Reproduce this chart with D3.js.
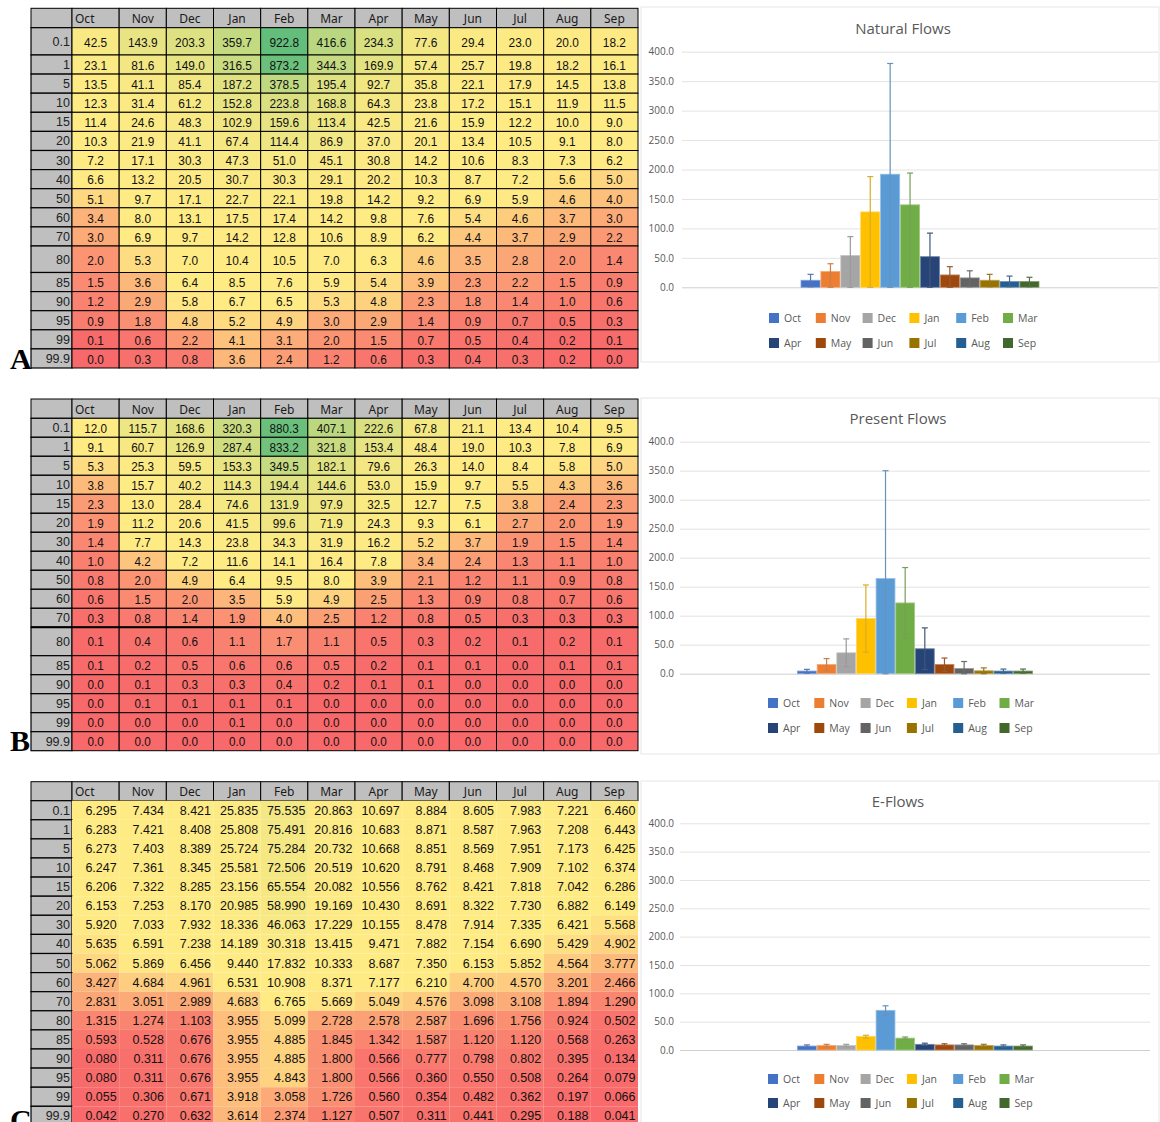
<!DOCTYPE html>
<html><head><meta charset="utf-8">
<script src="https://cdn.jsdelivr.net/npm/d3@7"></script>
<style>body{margin:0;background:#fff}svg{display:block}</style>
</head><body>
<svg id="c" width="1160" height="1122"></svg>
<script>
const months = ["Oct","Nov","Dec","Jan","Feb","Mar","Apr","May","Jun","Jul","Aug","Sep"];
const percentiles = ["0.1","1","5","10","15","20","30","40","50","60","70","80","85","90","95","99","99.9"];

const naturalTable = [
 [42.5,143.9,203.3,359.7,922.8,416.6,234.3,77.6,29.4,23.0,20.0,18.2],
 [23.1,81.6,149.0,316.5,873.2,344.3,169.9,57.4,25.7,19.8,18.2,16.1],
 [13.5,41.1,85.4,187.2,378.5,195.4,92.7,35.8,22.1,17.9,14.5,13.8],
 [12.3,31.4,61.2,152.8,223.8,168.8,64.3,23.8,17.2,15.1,11.9,11.5],
 [11.4,24.6,48.3,102.9,159.6,113.4,42.5,21.6,15.9,12.2,10.0,9.0],
 [10.3,21.9,41.1,67.4,114.4,86.9,37.0,20.1,13.4,10.5,9.1,8.0],
 [7.2,17.1,30.3,47.3,51.0,45.1,30.8,14.2,10.6,8.3,7.3,6.2],
 [6.6,13.2,20.5,30.7,30.3,29.1,20.2,10.3,8.7,7.2,5.6,5.0],
 [5.1,9.7,17.1,22.7,22.1,19.8,14.2,9.2,6.9,5.9,4.6,4.0],
 [3.4,8.0,13.1,17.5,17.4,14.2,9.8,7.6,5.4,4.6,3.7,3.0],
 [3.0,6.9,9.7,14.2,12.8,10.6,8.9,6.2,4.4,3.7,2.9,2.2],
 [2.0,5.3,7.0,10.4,10.5,7.0,6.3,4.6,3.5,2.8,2.0,1.4],
 [1.5,3.6,6.4,8.5,7.6,5.9,5.4,3.9,2.3,2.2,1.5,0.9],
 [1.2,2.9,5.8,6.7,6.5,5.3,4.8,2.3,1.8,1.4,1.0,0.6],
 [0.9,1.8,4.8,5.2,4.9,3.0,2.9,1.4,0.9,0.7,0.5,0.3],
 [0.1,0.6,2.2,4.1,3.1,2.0,1.5,0.7,0.5,0.4,0.2,0.1],
 [0.0,0.3,0.8,3.6,2.4,1.2,0.6,0.3,0.4,0.3,0.2,0.0]
];
const presentTable = [
 [12.0,115.7,168.6,320.3,880.3,407.1,222.6,67.8,21.1,13.4,10.4,9.5],
 [9.1,60.7,126.9,287.4,833.2,321.8,153.4,48.4,19.0,10.3,7.8,6.9],
 [5.3,25.3,59.5,153.3,349.5,182.1,79.6,26.3,14.0,8.4,5.8,5.0],
 [3.8,15.7,40.2,114.3,194.4,144.6,53.0,15.9,9.7,5.5,4.3,3.6],
 [2.3,13.0,28.4,74.6,131.9,97.9,32.5,12.7,7.5,3.8,2.4,2.3],
 [1.9,11.2,20.6,41.5,99.6,71.9,24.3,9.3,6.1,2.7,2.0,1.9],
 [1.4,7.7,14.3,23.8,34.3,31.9,16.2,5.2,3.7,1.9,1.5,1.4],
 [1.0,4.2,7.2,11.6,14.1,16.4,7.8,3.4,2.4,1.3,1.1,1.0],
 [0.8,2.0,4.9,6.4,9.5,8.0,3.9,2.1,1.2,1.1,0.9,0.8],
 [0.6,1.5,2.0,3.5,5.9,4.9,2.5,1.3,0.9,0.8,0.7,0.6],
 [0.3,0.8,1.4,1.9,4.0,2.5,1.2,0.8,0.5,0.3,0.3,0.3],
 [0.1,0.4,0.6,1.1,1.7,1.1,0.5,0.3,0.2,0.1,0.2,0.1],
 [0.1,0.2,0.5,0.6,0.6,0.5,0.2,0.1,0.1,0.0,0.1,0.1],
 [0.0,0.1,0.3,0.3,0.4,0.2,0.1,0.1,0.0,0.0,0.0,0.0],
 [0.0,0.1,0.1,0.1,0.1,0.0,0.0,0.0,0.0,0.0,0.0,0.0],
 [0.0,0.0,0.0,0.1,0.0,0.0,0.0,0.0,0.0,0.0,0.0,0.0],
 [0.0,0.0,0.0,0.0,0.0,0.0,0.0,0.0,0.0,0.0,0.0,0.0]
];
const eflowsTable = [
 [6.295,7.434,8.421,25.835,75.535,20.863,10.697,8.884,8.605,7.983,7.221,6.460],
 [6.283,7.421,8.408,25.808,75.491,20.816,10.683,8.871,8.587,7.963,7.208,6.443],
 [6.273,7.403,8.389,25.724,75.284,20.732,10.668,8.851,8.569,7.951,7.173,6.425],
 [6.247,7.361,8.345,25.581,72.506,20.519,10.620,8.791,8.468,7.909,7.102,6.374],
 [6.206,7.322,8.285,23.156,65.554,20.082,10.556,8.762,8.421,7.818,7.042,6.286],
 [6.153,7.253,8.170,20.985,58.990,19.169,10.430,8.691,8.322,7.730,6.882,6.149],
 [5.920,7.033,7.932,18.336,46.063,17.229,10.155,8.478,7.914,7.335,6.421,5.568],
 [5.635,6.591,7.238,14.189,30.318,13.415,9.471,7.882,7.154,6.690,5.429,4.902],
 [5.062,5.869,6.456,9.440,17.832,10.333,8.687,7.350,6.153,5.852,4.564,3.777],
 [3.427,4.684,4.961,6.531,10.908,8.371,7.177,6.210,4.700,4.570,3.201,2.466],
 [2.831,3.051,2.989,4.683,6.765,5.669,5.049,4.576,3.098,3.108,1.894,1.290],
 [1.315,1.274,1.103,3.955,5.099,2.728,2.578,2.587,1.696,1.756,0.924,0.502],
 [0.593,0.528,0.676,3.955,4.885,1.845,1.342,1.587,1.120,1.120,0.568,0.263],
 [0.080,0.311,0.676,3.955,4.885,1.800,0.566,0.777,0.798,0.802,0.395,0.134],
 [0.080,0.311,0.676,3.955,4.843,1.800,0.566,0.360,0.550,0.508,0.264,0.079],
 [0.055,0.306,0.671,3.918,3.058,1.726,0.560,0.354,0.482,0.362,0.197,0.066],
 [0.042,0.270,0.632,3.614,2.374,1.127,0.507,0.311,0.441,0.295,0.188,0.041]
];

// Bar chart values
const naturalBars    = [12, 27, 54, 128, 192, 140, 52, 21, 16, 12, 10, 10];
const naturalErrHigh = [22, 40, 86, 188, 380, 194, 92, 35, 28, 22, 19, 17];
const naturalErrLow  = [1, 0, 0, 0, 0, 0, 0, 0, 1, 1, 1, 1];
const presentBars    = [4.6, 16, 36, 95, 164, 122, 43, 16, 9, 5, 4.6, 4.6];
const presentErrHigh = [7.5, 26, 60, 153, 350, 183, 79, 27, 21, 10, 8, 8];
const presentErrLow  = [1, 5, 12, 37, 0, 61, 7, 4, 0, 0, 1, 1];
const eflowsBars     = [7, 8, 8, 24, 70, 21, 10, 9, 9, 8, 7, 7];
const eflowsErrHigh  = [9, 10, 10, 26, 78, 23, 12, 11, 11, 10, 9, 9];
const eflowsErrLow   = [5, 6, 6, 21, 62, 19, 8, 7, 7, 6, 5, 5];
const yTicks = [0, 50, 100, 150, 200, 250, 300, 350, 400];

const seriesColors = ["#4472C4","#ED7D31","#A5A5A5","#FFC000","#5B9BD5","#70AD47",
                      "#264478","#9E480E","#636363","#997300","#255E91","#43682B"];

const svg = d3.select("#c");
const colorMax = d3.max(naturalTable.flat());
const heat = d3.scaleLinear().domain([0, 6, colorMax])
  .range(["#F8696B","#FFEB84","#63BE7B"]).interpolate(d3.interpolateRgb).clamp(true);

function rowHeights(def, special){
  return percentiles.map((p,i)=> special[i] !== undefined ? special[i] : def);
}

const panels = [
 { table: naturalTable, fmt: d3.format(".1f"), top: 8.3, headerH: 19.4,
   rowH: rowHeights(19.1, {0:27.3, 11:26.5}), align: "middle", fs: 13.5, sx: 0.88,
   cellBorder: true, letter: "A", letterY: 369,
   chart: { title: "Natural Flows", box: [641, 7, 1159, 362], titleY: 28, y0: 287.3, yTop: 51.7,
            xr: [682, 1158], legY: [318, 343], legX: 769, legStep: 46.8, pad: 8,
            bars: naturalBars, hi: naturalErrHigh, lo: naturalErrLow } },
 { table: presentTable, fmt: d3.format(".1f"), top: 399, headerH: 19.3,
   rowH: rowHeights(19, {11:28.4}), align: "middle", fs: 13, sx: 0.9,
   cellBorder: true, letter: "B", letterY: 751, thick: 11,
   chart: { title: "Present Flows", box: [641, 398, 1159, 754], titleY: 418, y0: 673.7, yTop: 441.7,
            xr: [680, 1150], legY: [703, 728], legX: 768, legStep: 46.3, pad: 6,
            bars: presentBars, hi: presentErrHigh, lo: presentErrLow } },
 { table: eflowsTable, fmt: d3.format(".3f"), top: 781.7, headerH: 19,
   rowH: rowHeights(19.1, {}), align: "end", fs: 12.5, sx: 1.0,
   cellBorder: false, letter: "C", letterY: 1130,
   chart: { title: "E-Flows", box: [641, 781, 1159, 1130], titleY: 801, y0: 1050, yTop: 823.3,
            xr: [680, 1150], legY: [1079, 1103], legX: 768, legStep: 46.3, pad: 6,
            bars: eflowsBars, hi: eflowsErrHigh, lo: eflowsErrLow } }
];

const tableLeft = 31, labelRight = 72, tableRight = 638;

function drawTable(p){
  const g = svg.append("g");
  const x = d3.scaleBand().domain(months).range([labelRight, tableRight]);
  const edges = [p.top, p.top + p.headerH];
  p.rowH.forEach(h => edges.push(edges[edges.length-1] + h));
  const rowTop = i => edges[i+1], rowBot = i => edges[i+2];

  g.append("rect").attr("x", tableLeft).attr("y", p.top).attr("width", labelRight - tableLeft)
    .attr("height", p.headerH).attr("fill", "#BFBFBF").attr("stroke", "#000").attr("stroke-width", 1);
  months.forEach((m, j) => {
    g.append("rect").attr("x", x(m)).attr("y", p.top).attr("width", x.bandwidth()).attr("height", p.headerH)
      .attr("fill", "#BFBFBF").attr("stroke", "#000").attr("stroke-width", 1);
    g.append("text").attr("x", j === 0 ? x(m) + 3 : x(m) + x.bandwidth()/2)
      .attr("y", p.top + p.headerH/2 + 0.5).attr("dominant-baseline", "central")
      .attr("text-anchor", j === 0 ? "start" : "middle")
      .attr("font-family", "'Noto Sans', sans-serif").attr("font-size", 12).attr("fill", "#1a1a1a").text(m);
  });

  percentiles.forEach((pc, i) => {
    const y0 = rowTop(i), h = rowBot(i) - rowTop(i);
    g.append("rect").attr("x", tableLeft).attr("y", y0).attr("width", labelRight - tableLeft).attr("height", h)
      .attr("fill", "#BFBFBF").attr("stroke", "#000").attr("stroke-width", 1.2);
    g.append("text").attr("x", labelRight - 2).attr("y", y0 + h/2 + 0.5).attr("dominant-baseline", "central")
      .attr("text-anchor", "end").attr("font-family", "'Liberation Sans', Arial, sans-serif")
      .attr("font-size", 12.5).attr("fill", "#222").text(pc);
    months.forEach((m, j) => {
      const v = p.table[i][j];
      g.append("rect").attr("x", x(m)).attr("y", y0).attr("width", x.bandwidth()).attr("height", h)
        .attr("fill", heat(v))
        .attr("stroke", p.cellBorder ? "#000" : "none").attr("stroke-width", 1);
      const tx = p.align === "middle" ? x(m) + x.bandwidth()/2 : x(m) + x.bandwidth() - 2.5;
      g.append("text").attr("transform", `translate(${tx},${y0 + h/2 + 0.5}) scale(${p.sx},1)`)
        .attr("dominant-baseline", "central").attr("text-anchor", p.align)
        .attr("font-family", "'Liberation Sans', Arial, sans-serif").attr("font-size", p.fs)
        .attr("fill", "#111").text(p.fmt(v));
    });
  });
  if (p.thick !== undefined) {
    g.append("line").attr("x1", tableLeft).attr("x2", tableRight).attr("y1", rowTop(p.thick)).attr("y2", rowTop(p.thick))
      .attr("stroke", "#000").attr("stroke-width", 2);
  }
  g.append("text").attr("x", 10).attr("y", p.letterY).attr("font-family", "'Liberation Serif', 'Times New Roman', serif")
    .attr("font-weight", "bold").attr("font-size", 30).attr("fill", "#000").text(p.letter);
}

function drawChart(c){
  const g = svg.append("g");
  g.append("rect").attr("x", c.box[0]).attr("y", c.box[1]).attr("width", c.box[2]-c.box[0]).attr("height", c.box[3]-c.box[1])
    .attr("fill", "#fff").attr("stroke", "#E6E6E6").attr("stroke-width", 1);
  g.append("text").attr("x", (c.xr[0] + c.xr[1]) / 2 - 17).attr("y", c.titleY).attr("dominant-baseline", "central")
    .attr("text-anchor", "middle").attr("font-family", "'Open Sans', sans-serif").attr("font-size", 15)
    .attr("fill", "#595959").text(c.title);

  const y = d3.scaleLinear().domain([0, 400]).range([c.y0, c.yTop]);
  const axis = d3.axisLeft(y).tickValues(yTicks).tickFormat(d3.format(".1f"))
    .tickSize(-(c.xr[1] - c.xr[0])).tickPadding(c.pad);
  const ag = g.append("g").attr("transform", `translate(${c.xr[0]},0)`).call(axis);
  ag.select(".domain").remove();
  ag.selectAll(".tick line").attr("stroke", d => d === 0 ? "#CFCFCF" : "#E3E3E3");
  ag.selectAll(".tick text").attr("fill", "#595959").attr("font-family", "'Open Sans', sans-serif").attr("font-size", 10);

  const x0 = d3.scaleBand().domain(["flows"]).range(c.xr).paddingOuter(0.5).paddingInner(0);
  const x1 = d3.scaleBand().domain(months).range([x0("flows"), x0("flows") + x0.bandwidth()]).paddingInner(0.04);

  months.forEach((m, i) => {
    const col = seriesColors[i];
    g.append("rect").attr("x", x1(m)).attr("y", y(c.bars[i])).attr("width", x1.bandwidth())
      .attr("height", y(0) - y(c.bars[i])).attr("fill", col)
      .attr("stroke", d3.interpolateRgb(col, "#ffffff")(0.35)).attr("stroke-width", 0.8);
  });
  months.forEach((m, i) => {
    const ec = d3.interpolateRgb(seriesColors[i], "#808080")(0.3);
    const cx = x1(m) + x1.bandwidth()/2;
    g.append("line").attr("x1", cx).attr("x2", cx).attr("y1", y(c.lo[i])).attr("y2", y(c.hi[i]))
      .attr("stroke", ec).attr("stroke-width", 1.2);
    [c.hi[i], c.lo[i]].forEach(v => {
      g.append("line").attr("x1", cx - 3).attr("x2", cx + 3).attr("y1", y(v)).attr("y2", y(v))
        .attr("stroke", ec).attr("stroke-width", 1.2);
    });
  });

  months.forEach((m, i) => {
    const r = Math.floor(i / 6), k = i % 6;
    const lx = c.legX + k * c.legStep, ly = c.legY[r];
    g.append("rect").attr("x", lx).attr("y", ly - 5).attr("width", 10).attr("height", 10).attr("fill", seriesColors[i]);
    g.append("text").attr("x", lx + 15).attr("y", ly).attr("dominant-baseline", "central")
      .attr("font-family", "'Open Sans', sans-serif").attr("font-size", 10.5).attr("fill", "#595959").text(m);
  });
}

panels.forEach(p => { drawChart(p.chart); drawTable(p); });
</script>
</body></html>
